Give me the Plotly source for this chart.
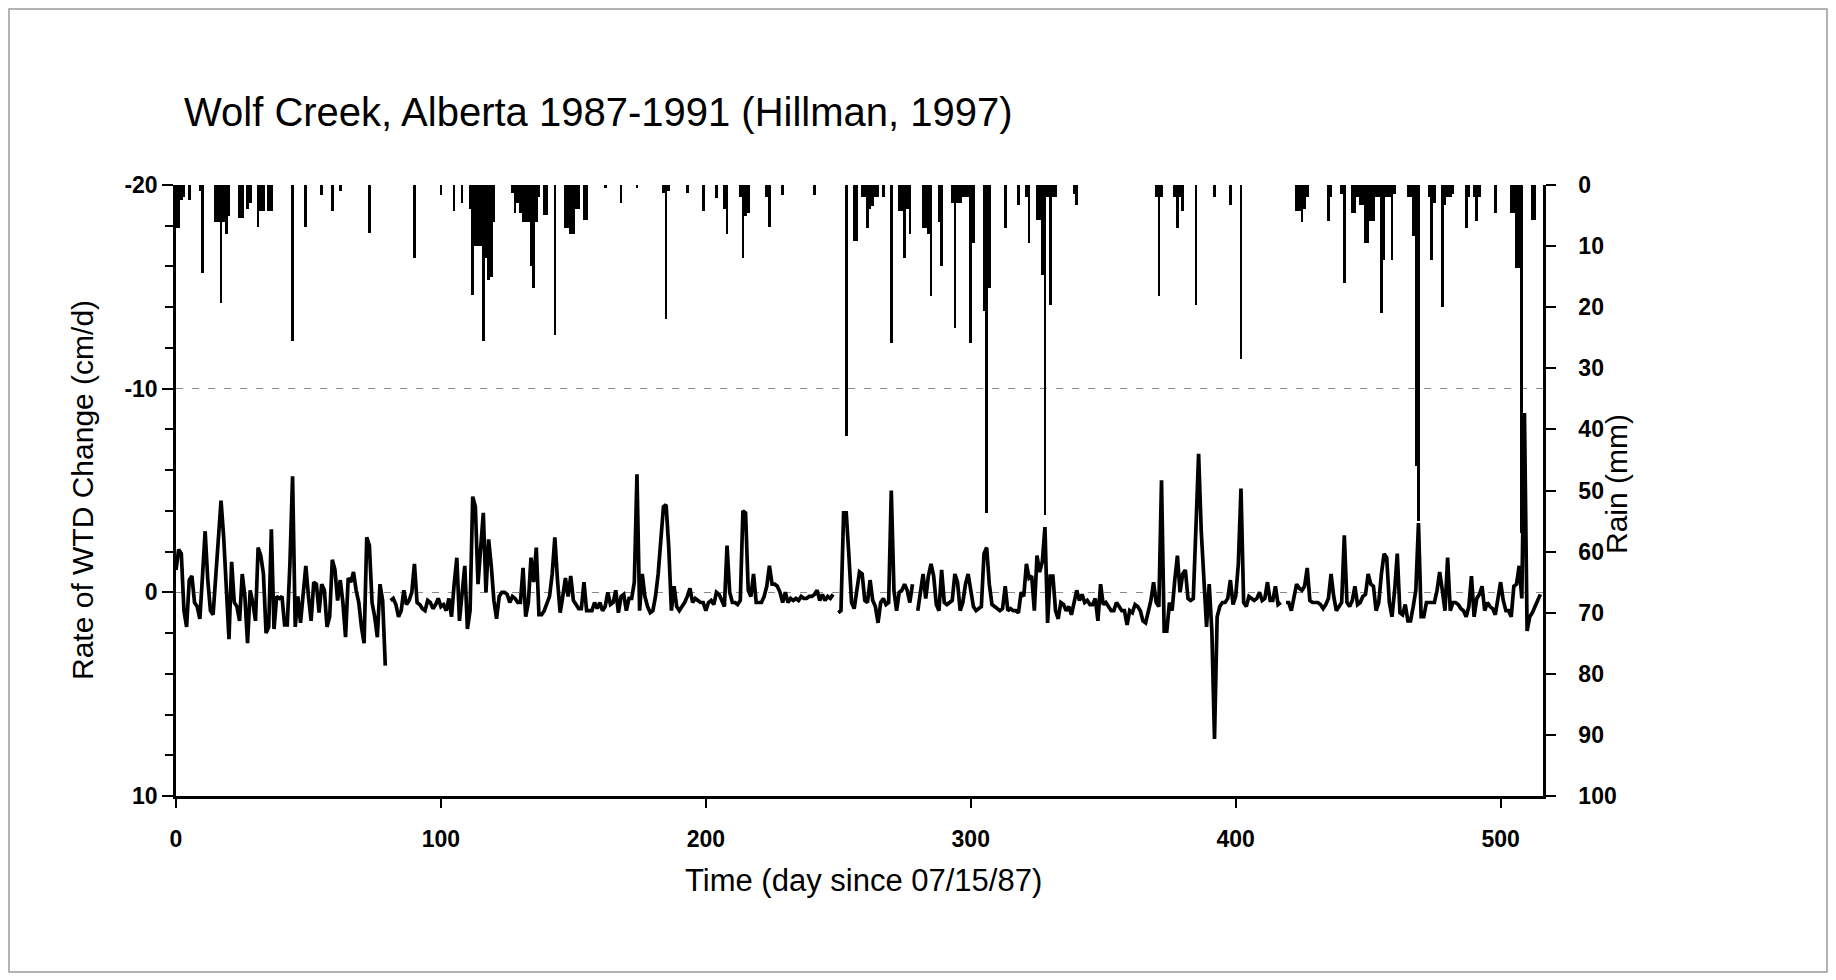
import plotly.graph_objects as go

# ---------------- data ----------------
days = list(range(0, 516))

wtd_rate = [
    -1.1, -2.1, -1.9, 0.9, 1.7, -0.6, -0.8, 0.5, 0.7, 1.3,        # 0
    -0.8, -3.0, -0.6, 0.9, 1.1, -0.8, -2.6, -4.5, -2.7, -0.1,     # 10
    2.3, -1.5, 0.5, 0.7, 1.4, -0.9, 0.2, 2.5, -0.1, 0.5,          # 20
    1.4, -2.2, -1.8, -0.9, 2.0, 1.7, -3.1, 1.8, 0.2, 0.3,         # 30
    0.2, 1.6, 1.6, -1.4, -5.7, 1.7, 0.2, 1.5, -0.1, -1.3,         # 40
    0.2, 1.4, -0.5, -0.4, 1.0, -0.4, -0.1, 1.7, 1.2, -1.6,        # 50
    -1.1, 0.4, -0.6, 0.5, 2.2, -0.7, -0.5, -1.0, -0.1, 0.5,       # 60
    1.7, 2.5, -2.7, -2.3, 0.5, 1.2, 2.2, -0.4, 0.4, 3.6,          # 70
    None, 0.4, 0.3, 0.6, 1.2, 0.9, -0.1, 0.6, 0.4, 0.0,           # 80
    -1.4, 0.5, 0.6, 0.8, 0.9, 0.4, 0.5, 0.8, 0.6, 0.3,            # 90
    0.7, 0.6, 0.9, 0.3, 1.2, -0.4, -1.7, 1.4, 0.2, -1.3,          # 100
    1.8, 0.9, -4.7, -4.2, -0.4, -2.1, -3.9, 0.0, -2.6, -1.3,      # 110
    0.4, 1.3, 0.2, 0.0, 0.0, 0.1, 0.5, 0.2, 0.3, 0.5,             # 120
    0.5, -1.2, 1.2, 0.5, -1.7, -0.5, -2.2, 1.1, 1.1, 0.9,         # 130
    0.6, 0.2, -0.9, -2.7, -0.6, 1.0, 0.2, -0.7, 0.2, -0.8,        # 140
    0.4, 0.6, 0.8, 0.8, -0.5, 0.9, 0.9, 0.9, 0.5, 0.8,            # 150
    0.5, 0.9, 0.7, 0.0, 0.6, 0.5, -0.1, 1.0, 0.2, 0.1,            # 160
    0.9, 0.3, 0.3, -0.5, -5.8, 0.9, -0.9, 0.2, 0.7, 1.0,          # 170
    0.9, 0.2, -0.9, -2.6, -4.2, -4.3, -2.2, 0.9, -0.3, 0.7,       # 180
    0.9, 0.7, 0.5, 0.2, -0.2, 0.5, 0.3, 0.4, 0.5, 0.5,            # 190
    0.9, 0.5, 0.4, 0.6, 0.0, 0.1, 0.4, 0.7, -2.3, 0.0,            # 200
    0.5, 0.5, 0.6, 0.4, -4.0, -3.9, -0.1, 0.2, -0.9, 0.5,         # 210
    0.5, 0.5, 0.2, -0.3, -1.3, -0.4, -0.4, -0.3, 0.0, 0.5,        # 220
    0.0, 0.5, 0.3, 0.4, 0.3, 0.4, 0.2, 0.3, 0.3, 0.2,             # 230
    0.2, 0.1, -0.1, 0.4, 0.1, 0.4, 0.2, 0.3, 0.1, None,           # 240
    1.0, 0.9, -3.9, -3.9, -1.8, 0.5, 0.8, -0.1, -1.0, -0.9,       # 250
    0.4, 0.5, -0.6, 0.4, 0.7, 1.5, 0.5, 0.3, 0.6, 0.5,            # 260
    -5.0, -0.1, 0.9, 0.0, -0.1, -0.4, -0.1, 0.5, -0.4, None,      # 270
    0.9, -0.1, -0.9, 0.3, -0.8, -1.4, -0.8, 0.6, 0.9, -1.1,       # 280
    0.5, 0.6, 0.5, 0.4, -0.9, -0.5, 0.9, 0.5, -0.4, -0.9,         # 290
    -0.1, 0.7, 0.9, 0.8, 0.7, -1.9, -2.2, -0.4, 0.6, 0.7,         # 300
    0.8, 0.9, 0.8, -0.3, 0.9, 0.8, 0.9, 0.9, 1.0, 0.0,            # 310
    0.2, -1.4, -0.7, -0.8, 0.9, -1.8, -1.0, -1.5, -3.2, 1.5,      # 320
    -0.8, -0.8, 0.9, 1.3, 0.5, 0.6, 0.9, 0.7, 1.1, 0.5,           # 330
    -0.1, 0.4, 0.1, 0.5, 0.4, 0.6, 0.6, 0.3, 1.4, -0.4,           # 340
    0.6, 0.5, 0.7, 0.9, 0.9, 0.5, 0.7, 0.9, 0.9, 1.6,             # 350
    0.9, 1.0, 0.6, 0.7, 0.9, 1.4, 1.5, 0.9, 0.4, -0.5,            # 360
    0.5, 0.7, -5.5, 1.9, 1.9, 0.5, 0.9, -0.6, -1.8, 0.0,          # 370
    -0.9, -1.1, 0.3, 0.4, 0.3, -3.2, -6.8, -3.0, -0.3, 1.7,       # 380
    -0.4, 1.9, 7.2, 1.2, 0.7, 0.5, 0.5, 0.3, -0.6, 0.6,           # 390
    0.2, -1.4, -5.1, 0.5, 0.7, 0.2, 0.3, 0.4, 0.3, 0.0,           # 400
    0.4, 0.3, -0.5, 0.4, 0.4, -0.3, 0.6, 0.5, None, 0.5,          # 410
    0.5, 0.9, 0.3, -0.4, -0.2, -0.1, -0.3, -1.2, 0.4, 0.5,        # 420
    0.5, 0.5, 0.6, 0.8, 0.6, 0.3, -0.9, 0.2, 0.9, 0.7,            # 430
    0.5, -2.8, 0.5, 0.7, 0.4, -0.3, 0.6, 0.5, 0.2, 0.1,           # 440
    -0.9, -0.4, -0.3, 0.9, 0.5, -0.9, -1.9, -1.7, 0.5, 1.2,       # 450
    -0.1, -1.9, 1.0, 1.1, 0.6, 1.4, 1.4, 0.7, -0.1, -3.4,         # 460
    1.2, 1.2, 0.5, 0.5, 0.5, 0.5, -0.1, -1.0, -0.1, 0.9,          # 470
    -1.7, 0.9, 0.5, 0.5, 0.6, 0.8, 0.9, 1.2, 0.7, -0.8,           # 480
    1.2, 0.3, 0.1, -0.3, 0.9, 0.5, 0.7, 0.8, 1.1, 0.4,            # 490
    -0.5, 0.4, 0.9, 0.9, 1.2, -0.3, -0.4, -1.3, 0.3, -8.8,        # 500
    1.9, 1.2, 1.0, 0.7, 0.4, 0.1,                                 # 510
]

rain_days = [
    0, 1, 2, 3, 5, 9, 10, 15, 16, 17, 18, 19, 20, 24, 25, 27, 28, 31, 32, 33,
    35, 36, 44, 49, 55, 59, 62, 73, 90, 100, 105, 108, 111, 112, 113, 114, 115, 116, 117, 118,
    119, 120, 127, 128, 129, 130, 131, 132, 133, 134, 135, 136, 137, 139, 140, 143, 147, 148, 149, 150,
    151, 152, 154, 155, 162, 168, 174, 184, 185, 186, 193, 199, 204, 207, 208, 213, 214, 215, 216, 223,
    224, 229, 241, 253, 256, 257, 259, 260, 261, 262, 263, 264, 265, 267, 270, 273, 274, 275, 276, 277,
    282, 283, 284, 285, 288, 289, 293, 294, 295, 296, 297, 298, 299, 300, 301, 305, 306, 307, 313, 318,
    321, 322, 325, 326, 327, 328, 329, 330, 331, 332, 339, 340, 370, 371, 372, 377, 378, 379, 380, 385,
    392, 398, 402, 423, 424, 425, 426, 427, 435, 436, 440, 441, 444, 445, 446, 447, 448, 449, 450, 451,
    452, 453, 454, 455, 456, 457, 458, 459, 460, 465, 466, 467, 468, 469, 473, 474, 475, 478, 479, 480,
    481, 482, 487, 488, 490, 491, 492, 498, 504, 505, 506, 507, 508, 512, 513,
]

rain_mm = [
    7, 7, 2.5, 2, 2.5, 1, 14.4, 6, 6, 19.3, 6, 8, 5, 5.4, 5.4, 4, 3, 6.8, 4.3, 4.3,
    4.3, 4.3, 25.6, 6.8, 1.6, 4.3, 1, 7.9, 12, 1.6, 4.3, 3, 4, 18, 10, 10, 10, 25.6, 12, 15.5,
    15, 6, 1.3, 4.5, 3, 4.5, 6, 6, 6, 13.3, 16.9, 6, 2, 4.9, 4.9, 24.5, 7, 7, 8.1, 8.1,
    4, 4, 5.7, 5.7, 0.5, 2.9, 0.5, 1.3, 22, 1, 1.3, 4.3, 2.1, 4, 8.1, 2, 12, 5, 4.5, 2,
    6.8, 1.6, 1.6, 41, 9.2, 9.2, 2, 2, 7, 4, 3.5, 2, 2, 1.9, 25.9, 4.3, 4.3, 12, 4, 8,
    7, 7, 8, 18.2, 6, 13.3, 3, 23.4, 3, 3, 2, 2, 2, 25.9, 9.5, 20.7, 53.7, 16.9, 7, 3.2,
    2, 9.5, 5.7, 5.7, 14.7, 54, 2, 19.6, 2, 2, 1.5, 3.2, 2, 18.2, 2, 2, 7, 2, 4.3, 19.6,
    1.9, 3.2, 28.5, 4.3, 4.3, 6, 4, 2, 5.9, 2, 1.5, 16, 4.6, 4.6, 2, 3.2, 3.2, 9.5, 9.5, 5.9,
    5.9, 2, 2, 21, 12.2, 2, 2, 12.2, 1.5, 2, 2, 8.4, 46, 55, 2, 12.2, 3, 19.9, 3.2, 2,
    2, 1.5, 7, 2, 2, 5.9, 2, 4.6, 4.6, 4.6, 13.6, 13.6, 57, 5.7, 5.7,
]

x_ticks = [0, 100, 200, 300, 400, 500]
left_ticks = [-20, -10, 0, 10]
left_tick_text = ["-20", "-10", "0", "10"]
right_ticks = [0, 10, 20, 30, 40, 50, 60, 70, 80, 90, 100]

assert len(wtd_rate) == len(days)
assert len(rain_days) == len(rain_mm)

# ---------------- figure ----------------
W, H = 1836, 980
ML, MR, MT, MB = 176, 293, 185, 184
PW, PH = W - ML - MR, H - MT - MB


def px_x(px):
    return (px - ML) / PW


def px_y(py):
    return (H - MB - py) / PH


FONT = 'Arial, "Liberation Sans", Helvetica, sans-serif'

fig = go.Figure()
fig.add_trace(go.Bar(
    x=rain_days, y=rain_mm, yaxis="y2", width=1.0,
    marker=dict(color="black", line=dict(width=0)), name="Rain",
))
fig.add_trace(go.Scatter(
    x=days, y=wtd_rate, mode="lines", connectgaps=False,
    line=dict(color="black", width=3.7), name="Rate of WTD change",
))

tickfont = dict(family=FONT, size=23, color="black", weight="bold")

fig.update_layout(
    width=W, height=H,
    margin=dict(l=ML, r=MR, t=MT, b=MB, autoexpand=False),
    paper_bgcolor="white", plot_bgcolor="white",
    showlegend=False, bargap=0,
    font=dict(family=FONT, color="black"),
    title=dict(
        text="Wolf Creek, Alberta 1987-1991 (Hillman, 1997)",
        x=184 / W, xanchor="left", y=1 - 112 / H, yanchor="middle",
        font=dict(family=FONT, size=40, color="black"),
    ),
    xaxis=dict(
        range=[0, 516], tickvals=x_ticks, ticks="outside", ticklen=9,
        tickwidth=2, tickcolor="black", showline=True, linewidth=2.5,
        linecolor="black", showgrid=False, zeroline=False, tickfont=tickfont,
        ticklabelstandoff=12,
    ),
    yaxis=dict(
        range=[10, -20], tickvals=left_ticks, ticktext=left_tick_text,
        ticks="outside", ticklen=11, tickwidth=2, tickcolor="black",
        showline=True, linewidth=2.5, linecolor="black",
        showgrid=True, gridcolor="#8a8a8a", griddash="7px,9px", gridwidth=1,
        zeroline=False, tickfont=tickfont, ticklabelstandoff=0,
        minor=dict(dtick=2, tick0=0, ticks="outside", ticklen=8, tickwidth=2,
                   tickcolor="black", showgrid=False),
    ),
    yaxis2=dict(
        overlaying="y", side="right", range=[100, 0], tickvals=right_ticks,
        ticks="outside", ticklen=10, tickwidth=2, tickcolor="black",
        showline=True, linewidth=2.5, linecolor="black", showgrid=False,
        zeroline=False, tickfont=tickfont, ticklabelstandoff=18,
    ),
    annotations=[
        dict(text="Rate of WTD Change (cm/d)", xref="paper", yref="paper",
             x=px_x(82), y=px_y(490), textangle=-90, showarrow=False,
             xanchor="center", yanchor="middle",
             font=dict(family=FONT, size=30, color="black")),
        dict(text="Rain (mm)", xref="paper", yref="paper",
             x=px_x(1616), y=px_y(484), textangle=-90, showarrow=False,
             xanchor="center", yanchor="middle",
             font=dict(family=FONT, size=30, color="black")),
        dict(text="Time (day since 07/15/87)", xref="paper", yref="paper",
             x=px_x(863), y=px_y(880), showarrow=False,
             xanchor="center", yanchor="middle",
             font=dict(family=FONT, size=31, color="black")),
    ],
    shapes=[
        dict(type="rect", xref="paper", yref="paper",
             x0=px_x(9), x1=px_x(1827), y0=px_y(972), y1=px_y(9),
             line=dict(color="#9a9a9a", width=1.5), layer="below"),
    ],
)

fig.write_html(
    "out.html",
    config={"displayModeBar": False},
    post_script="document.body.style.margin='0';",
)
